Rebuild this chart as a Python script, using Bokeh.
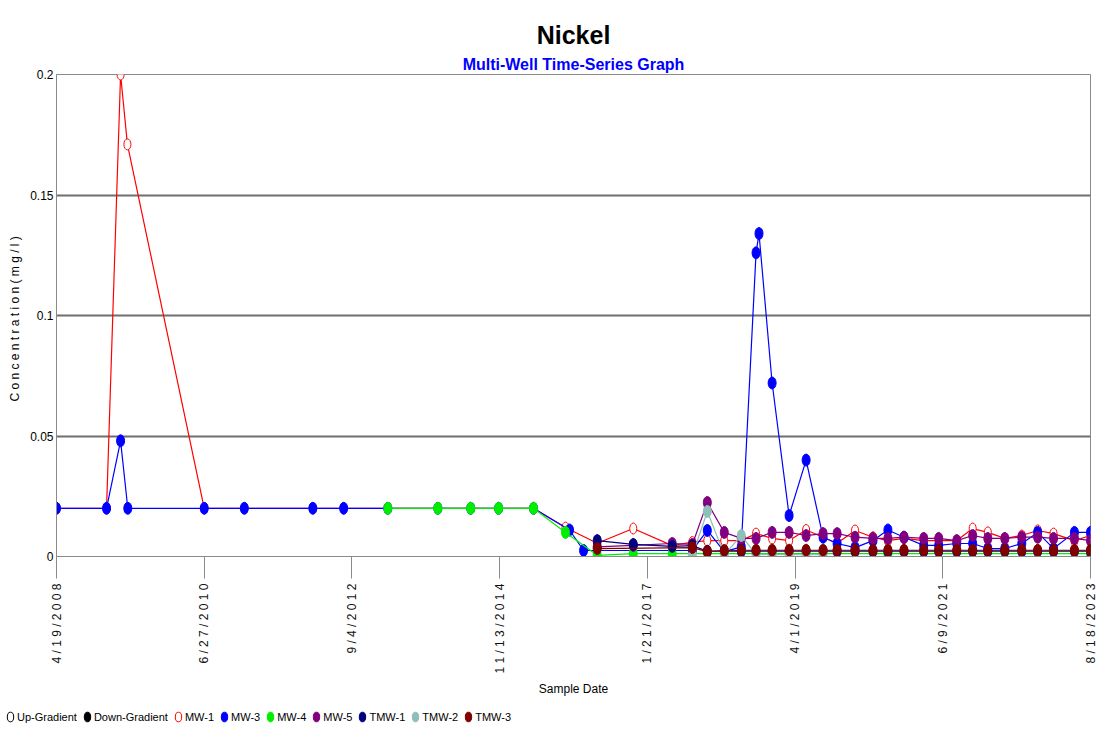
import math
from datetime import datetime, timezone
from bokeh.plotting import figure
from bokeh.layouts import column
from bokeh.models import Range1d, FixedTicker, Legend, LegendItem, Title, ColumnDataSource
from bokeh.embed import file_html
from bokeh.resources import INLINE

FONT = "Liberation Sans"

tick_dates = ["2008-04-19", "2010-06-27", "2012-09-04", "2014-11-13",
              "2017-01-21", "2019-04-01", "2021-06-09", "2023-08-18"]
tick_labels = ["4/19/2008", "6/27/2010", "9/4/2012", "11/13/2014",
               "1/21/2017", "4/1/2019", "6/9/2021", "8/18/2023"]
y_ticks = [0, 0.05, 0.1, 0.15, 0.2]
y_tick_labels = ["0", "0.05", "0.1", "0.15", "0.2"]

mw1_dates = ["2008-04-19", "2009-01-15", "2009-04-01", "2009-05-08", "2010-06-28", "2011-01-31",
             "2012-02-06", "2012-07-22", "2013-03-18", "2013-12-14", "2014-06-10", "2014-11-08",
             "2015-05-16", "2015-11-05", "2016-04-25", "2016-11-06", "2017-06-05", "2017-09-22",
             "2017-12-12", "2018-03-14", "2018-06-14", "2018-09-02", "2018-11-28", "2019-02-28",
             "2019-05-31", "2019-08-31", "2019-11-15", "2020-02-20", "2020-05-27", "2020-08-16",
             "2020-11-11", "2021-02-26", "2021-05-18", "2021-08-24", "2021-11-18", "2022-02-08",
             "2022-05-11", "2022-08-11", "2022-11-05", "2023-01-30", "2023-05-23", "2023-08-18"]
mw1_vals = [0.02, 0.02, 0.2, 0.171, 0.02, 0.02, 0.02, 0.02, 0.02, 0.02, 0.02, 0.02, 0.02,
            0.012, 0.0055, 0.0116, 0.0045, 0.006, 0.0066, 0.0066, 0.0066, 0.0095, 0.0075,
            0.0066, 0.011, 0.008, 0.0055, 0.0108, 0.008, 0.0066, 0.0075, 0.0066, 0.0066,
            0.0066, 0.0116, 0.010, 0.0075, 0.0087, 0.0108, 0.0095, 0.0066, 0.0087]

mw3_dates = ["2008-04-19", "2009-01-15", "2009-04-01", "2009-05-10", "2010-06-28", "2011-01-31",
             "2012-02-06", "2012-07-22", "2013-03-18", "2013-12-14", "2014-06-10", "2014-11-08",
             "2015-05-16", "2015-11-27", "2016-02-11", "2017-09-22", "2017-12-12", "2018-03-14",
             "2018-06-14", "2018-09-02", "2018-09-18", "2018-11-28", "2019-02-28", "2019-05-31",
             "2019-08-31", "2019-11-15", "2020-02-20", "2020-05-27", "2020-08-16", "2020-11-11",
             "2021-02-26", "2021-05-18", "2021-08-24", "2021-11-18", "2022-02-08", "2022-05-11",
             "2022-08-11", "2022-11-05", "2023-01-30", "2023-05-23", "2023-08-18"]
mw3_vals = [0.02, 0.02, 0.048, 0.02, 0.02, 0.02, 0.02, 0.02, 0.02, 0.02, 0.02, 0.02, 0.02,
            0.011, 0.0025, 0.0025, 0.0108, 0.002, 0.004, 0.126, 0.134, 0.072, 0.017, 0.040,
            0.008, 0.0054, 0.0037, 0.0066, 0.011, 0.008, 0.0046, 0.0046, 0.0054, 0.0054,
            0.0033, 0.0033, 0.0054, 0.010, 0.0033, 0.010, 0.010]

mw4_dates = ["2013-03-18", "2013-12-14", "2014-06-10", "2014-11-08", "2015-05-16", "2015-11-05",
             "2016-04-25", "2016-11-06", "2017-06-05", "2020-08-16", "2023-08-18"]
mw4_vals = [0.02, 0.02, 0.02, 0.02, 0.02, 0.010, 0.0005, 0.0012, 0.0012, 0.0012, 0.0012]

mw5_dates = ["2016-04-25", "2016-11-06", "2017-06-05", "2017-09-22", "2017-12-12", "2018-03-14",
             "2018-06-14", "2018-09-02", "2018-11-28", "2019-02-28", "2019-05-31", "2019-08-31",
             "2019-11-15", "2020-02-20", "2020-05-27", "2020-08-16", "2020-11-11", "2021-02-26",
             "2021-05-18", "2021-08-24", "2021-11-18", "2022-02-08", "2022-05-11", "2022-08-11",
             "2022-11-05", "2023-01-30", "2023-05-23", "2023-08-18"]
mw5_vals = [0.004, 0.0046, 0.0054, 0.005, 0.0224, 0.010, 0.0075, 0.0075, 0.010, 0.010, 0.0087,
            0.0095, 0.0095, 0.008, 0.0075, 0.0075, 0.008, 0.0075, 0.0075, 0.0066, 0.0087,
            0.0075, 0.0075, 0.008, 0.008, 0.0075, 0.0075, 0.0066]

tmw1_dates = mw5_dates
tmw1_vals = [0.0066, 0.005, 0.0042, 0.0045, 0.0022, 0.0022, 0.0022, 0.0022, 0.0022, 0.0022,
             0.0022, 0.0022, 0.0022, 0.0022, 0.0022, 0.0022, 0.0022, 0.0022, 0.0022, 0.0022,
             0.0022, 0.0022, 0.0022, 0.0022, 0.0022, 0.0022, 0.0022, 0.0022]

tmw2_dates = ["2017-09-22", "2017-12-12", "2018-03-14", "2018-06-14", "2018-09-02", "2018-11-28",
              "2019-02-28", "2019-05-31", "2019-08-31"]
tmw2_vals = [0.0004, 0.0187, 0.0008, 0.0087, 0.0008, 0.0008, 0.0008, 0.0008, 0.0008]

tmw3_dates = ["2016-04-25", "2017-09-22", "2017-12-12", "2018-03-14", "2018-06-14", "2018-09-02",
              "2018-11-28", "2019-02-28", "2019-05-31", "2019-08-31", "2019-11-15", "2020-02-20",
              "2020-05-27", "2020-08-16", "2020-11-11", "2021-02-26", "2021-05-18", "2021-08-24",
              "2021-11-18", "2022-02-08", "2022-05-11", "2022-08-11", "2022-11-05", "2023-01-30",
              "2023-05-23", "2023-08-18"]
tmw3_vals = [0.0033, 0.0037, 0.002, 0.0025, 0.0026, 0.0026, 0.0026, 0.0026, 0.0026, 0.0026,
             0.0026, 0.0026, 0.0026, 0.0026, 0.0026, 0.0026, 0.0026, 0.0026, 0.0026, 0.0026,
             0.0026, 0.0026, 0.0026, 0.0026, 0.0026, 0.0026]

legend_categories = ["Up-Gradient", "Down-Gradient"]


def ms(s):
    return datetime.strptime(s, "%Y-%m-%d").replace(tzinfo=timezone.utc).timestamp() * 1000.0


tick_ms = [ms(d) for d in tick_dates]

p = figure(width=1112, height=700, x_axis_type="datetime", output_backend="svg",
           toolbar_location=None,
           x_range=Range1d(tick_ms[0], tick_ms[-1]), y_range=Range1d(0, 0.2),
           min_border_left=56, min_border_right=22, min_border_top=74, min_border_bottom=144)

p.background_fill_color = "white"
p.border_fill_color = "white"
p.outline_line_color = "#8a8a8a"
p.outline_line_width = 1

# titles (the added Title sits nearer the frame)
p.title.text = "Nickel"
p.title.text_color = "black"
p.title.text_font = FONT
p.title.text_font_size = "25px"
p.title.text_font_style = "bold"
p.title.align = "center"
p.title.standoff = 8
p.add_layout(Title(text="Multi-Well Time-Series Graph", text_font=FONT, text_font_size="16px",
                   text_font_style="bold", text_color="#0000ff", align="center",
                   standoff=3), "above")

# axes
xa = p.xaxis[0]
xa.ticker = FixedTicker(ticks=tick_ms)
xa.major_label_overrides = {t: " ".join(list(l)) for t, l in zip(tick_ms, tick_labels)}
xa.major_label_orientation = math.pi / 2
xa.major_label_text_font = FONT
xa.major_label_text_font_size = "12px"
xa.major_label_text_color = "#111111"
xa.major_label_standoff = 5
xa.major_tick_out = 22
xa.major_tick_in = 0
xa.major_tick_line_color = "#8a8a8a"
xa.minor_tick_line_color = None
xa.axis_line_color = "#8a8a8a"
xa.axis_label = "Sample Date"
xa.axis_label_text_font = FONT
xa.axis_label_text_font_size = "12px"
xa.axis_label_text_font_style = "normal"
xa.axis_label_text_color = "black"
xa.axis_label_standoff = 5

ya = p.yaxis[0]
ya.ticker = FixedTicker(ticks=y_ticks)
ya.major_label_overrides = {t: l for t, l in zip(y_ticks, y_tick_labels)}
ya.major_label_text_font = FONT
ya.major_label_text_font_size = "12px"
ya.major_label_text_color = "black"
ya.major_label_standoff = 3
ya.major_tick_out = 0
ya.major_tick_in = 0
ya.minor_tick_line_color = None
ya.axis_line_color = "#8a8a8a"
ya.axis_label = "C o n c e n t r a t i o n   ( m g / l )"
ya.axis_label_text_font = FONT
ya.axis_label_text_font_size = "12px"
ya.axis_label_text_font_style = "normal"
ya.axis_label_text_color = "black"
ya.axis_label_standoff = 5

p.xgrid.visible = False
p.ygrid.ticker = FixedTicker(ticks=y_ticks)
p.ygrid.grid_line_color = "#6e6e6e"
p.ygrid.grid_line_width = 2

series = [
    ("MW-1", mw1_dates, mw1_vals, "#ff0000", True),
    ("MW-3", mw3_dates, mw3_vals, "#0000ff", False),
    ("MW-4", mw4_dates, mw4_vals, "#00ee00", False),
    ("MW-5", mw5_dates, mw5_vals, "#800080", False),
    ("TMW-1", tmw1_dates, tmw1_vals, "#000080", False),
    ("TMW-2", tmw2_dates, tmw2_vals, "#8fbfb8", False),
    ("TMW-3", tmw3_dates, tmw3_vals, "#800000", False),
]

for name, dates, vals, color, hollow in series:
    src = ColumnDataSource(dict(x=[ms(d) for d in dates], y=vals))
    p.line(x="x", y="y", line_color=color, line_width=1.2, source=src)
    p.ellipse(x="x", y="y", width=8 if not hollow else 7, height=12 if not hollow else 11,
              width_units="screen", height_units="screen",
              fill_color="white" if hollow else color, line_color=color, line_width=1,
              source=src)

# legend strip underneath (separate small figure holding only legend proxies)
lf = figure(width=1112, height=31, output_backend="svg", toolbar_location=None,
            x_axis_location=None, y_axis_location=None, min_border=0,
            x_range=Range1d(0, 1), y_range=Range1d(0, 1))
lf.frame_align = False
lf.outline_line_color = None
lf.xgrid.visible = False
lf.ygrid.visible = False
items = []
legend_specs = [(legend_categories[0], "black", "white"), (legend_categories[1], "black", "black")]
legend_specs += [(name, color, "white" if hollow else color) for name, _, _, color, hollow in series]
for name, lc, fc in legend_specs:
    src = ColumnDataSource(dict(x=[float("nan")], y=[float("nan")]))
    r = lf.ellipse(x="x", y="y", width=8, height=12, width_units="screen", height_units="screen",
                   fill_color=fc, line_color=lc, line_width=1, source=src)
    items.append(LegendItem(label=name, renderers=[r]))

legend = Legend(items=items, orientation="horizontal", location=(4, 8),
                glyph_width=12, glyph_height=13, label_standoff=1, spacing=4,
                padding=0, margin=0, border_line_alpha=0, background_fill_alpha=0,
                label_text_font=FONT, label_text_font_size="11px", label_text_color="black")
lf.add_layout(legend, "center")

open("out.html", "w").write(file_html(column(p, lf, spacing=0), INLINE))
